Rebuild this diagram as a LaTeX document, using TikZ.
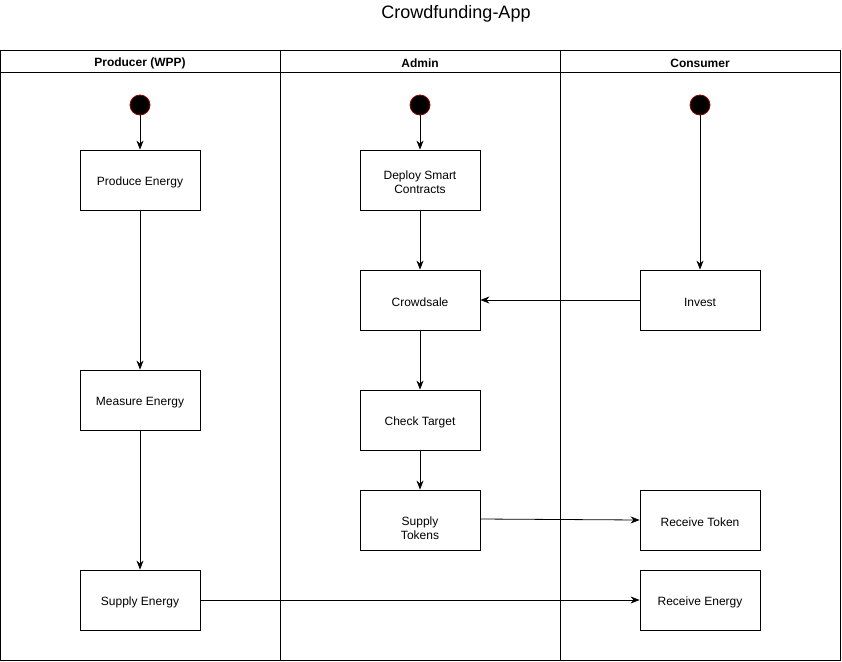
\documentclass[tikz,border=0pt]{standalone}
\usepackage{fontspec}
\setmainfont{Liberation Sans}
\usetikzlibrary{positioning,arrows.meta}
\definecolor{cfStart}{RGB}{150,0,0}
\tikzset{
    base/.style={font=\fontsize{12}{14}\selectfont, align=center},
    lane/.style={draw=black, line width=0.8pt},
    header/.style={base, font=\fontsize{12}{14}\selectfont\bfseries},
    task/.style={rectangle, draw=black, line width=0.8pt, fill=white,
                 minimum width=120pt, minimum height=60pt, inner sep=0pt},
    tasktext/.style={base, inner sep=0pt, yshift=-2.5pt},
    start/.style={circle, draw=cfStart, fill=black, line width=0.8pt,
                  minimum size=20pt, inner sep=0pt},
    flow/.style={-{Stealth[length=9pt,width=7pt]}, line width=0.8pt, color=black}
}
\begin{document}
\begin{tikzpicture}[x=1pt, y=-1pt]
  \useasboundingbox (0,0) rectangle (842,661);

  % Title
  \node[font=\fontsize{18}{20}\selectfont] (title) at (456,14) {Crowdfunding-App};

  % Pool and lanes
  \draw[lane] (0.5,50.5) rectangle (840,660);
  \draw[lane] (0.5,72.5) -- (840,72.5);
  \draw[lane] (280,50.5) -- (280,660);
  \draw[lane] (560,50.5) -- (560,660);
  \node[header] (producer) at (140,63) {Producer (WPP)};
  \node[header] (admin) at (420,63) {Admin};
  \node[header] (consumer) at (700,63) {Consumer};

  % Start points
  \node[start] (s1) at (140,105) {};
  \node[start] (s2) at (420,105) {};
  \node[start] (s3) at (700,105) {};

  % Producer lane
  \node[task, label={[tasktext]center:Produce Energy}] (produce) at (140,180) {};
  \node[task, label={[tasktext]center:Measure Energy}] (measure) at (140,400) {};
  \node[task, label={[tasktext]center:Supply Energy}] (senergy) at (140,600) {};

  % Admin lane
  \node[task, label={[tasktext]center:Deploy Smart\\Contracts}] (deploy) at (420,180) {};
  \node[task, label={[tasktext]center:Crowdsale}] (crowd) at (420,300) {};
  \node[task, label={[tasktext]center:Check Target}] (check) at (420,420) {};
  \node[task, label={[tasktext, yshift=-6pt]center:Supply\\Tokens}] (stokens) at (420,520) {};

  % Consumer lane
  \node[task, label={[tasktext]center:Invest}] (invest) at (700,300) {};
  \node[task, label={[tasktext]center:Receive Token}] (rtoken) at (700,520) {};
  \node[task, label={[tasktext]center:Receive Energy}] (renergy) at (700,600) {};

  % Flows
  \draw[flow] (s1) -- (produce);
  \draw[flow] (produce) -- (measure);
  \draw[flow] (measure) -- (senergy);
  \draw[flow] (s2) -- (deploy);
  \draw[flow] (deploy) -- (crowd);
  \draw[flow] (crowd) -- (check);
  \draw[flow] (check) -- (stokens);
  \draw[flow] (s3) -- (invest);
  \draw[flow] (invest) -- (crowd);
  \draw[flow] ([yshift=1pt]stokens.east) -- (rtoken.west);
  \draw[flow] (senergy) -- (renergy);
\end{tikzpicture}
\end{document}
